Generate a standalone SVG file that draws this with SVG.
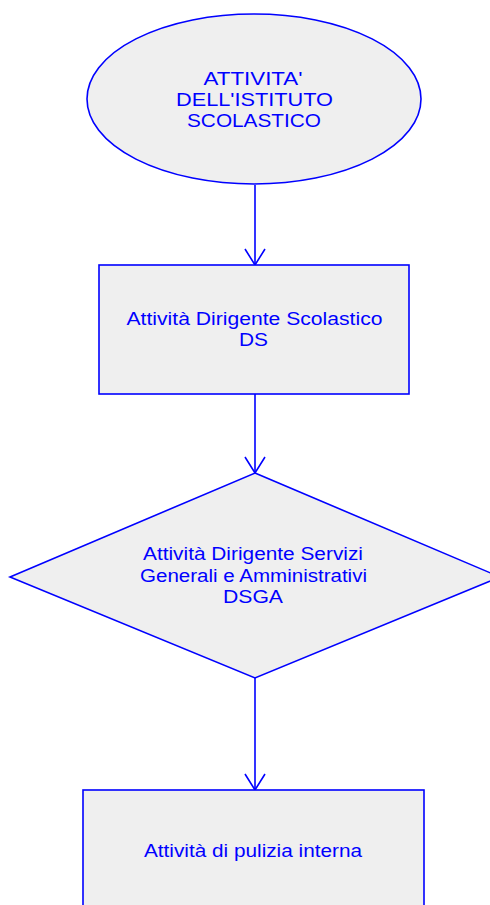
<svg xmlns="http://www.w3.org/2000/svg" width="490" height="905" viewBox="0 0 490 905">
<style>
.n{fill:#efefef;stroke:#0000ff;stroke-width:1.6}
.t{font-family:"Liberation Sans",Arial,sans-serif;font-size:17.5px;fill:#0000ff;text-anchor:middle}
.c{fill:none;stroke:#0000ff;stroke-width:1.6}
</style>
<defs>
<marker id="ah" markerUnits="userSpaceOnUse" markerWidth="20" markerHeight="24" refX="17" refY="11" orient="auto" viewBox="0 0 20 24">
<path d="M1,1 L17,11 L1,21" fill="none" stroke="#0000ff" stroke-width="1.6"/>
</marker>
</defs>
<rect width="490" height="905" fill="#ffffff"/>
<g id="connectors">
<line class="c" x1="255" y1="185" x2="255" y2="265" marker-end="url(#ah)"/>
<line class="c" x1="255" y1="394" x2="255" y2="473" marker-end="url(#ah)"/>
<line class="c" x1="255" y1="678" x2="255" y2="790" marker-end="url(#ah)"/>
</g>
<g id="node1">
<ellipse class="n" cx="254" cy="99" rx="167" ry="85"/>
<text class="t" x="253" y="85" textLength="99" lengthAdjust="spacingAndGlyphs">ATTIVITA'</text>
<text class="t" x="254.5" y="106" textLength="157" lengthAdjust="spacingAndGlyphs">DELL'ISTITUTO</text>
<text class="t" x="254" y="127" textLength="134" lengthAdjust="spacingAndGlyphs">SCOLASTICO</text>
</g>
<g id="node2">
<rect class="n" x="99" y="265" width="310" height="129"/>
<text class="t" x="254.5" y="325" textLength="256" lengthAdjust="spacingAndGlyphs">Attività Dirigente Scolastico</text>
<text class="t" x="253.5" y="346" textLength="29" lengthAdjust="spacingAndGlyphs">DS</text>
</g>
<g id="node3">
<polygon class="n" points="255,473 500,577 255,678 10,577"/>
<text class="t" x="253" y="560" textLength="220" lengthAdjust="spacingAndGlyphs">Attività Dirigente Servizi</text>
<text class="t" x="253.5" y="582" textLength="227" lengthAdjust="spacingAndGlyphs">Generali e Amministrativi</text>
<text class="t" x="253" y="603" textLength="60" lengthAdjust="spacingAndGlyphs">DSGA</text>
</g>
<g id="node4">
<rect class="n" x="83" y="790" width="341" height="140"/>
<text class="t" x="253" y="857" textLength="218" lengthAdjust="spacingAndGlyphs">Attività di pulizia interna</text>
</g>
</svg>
